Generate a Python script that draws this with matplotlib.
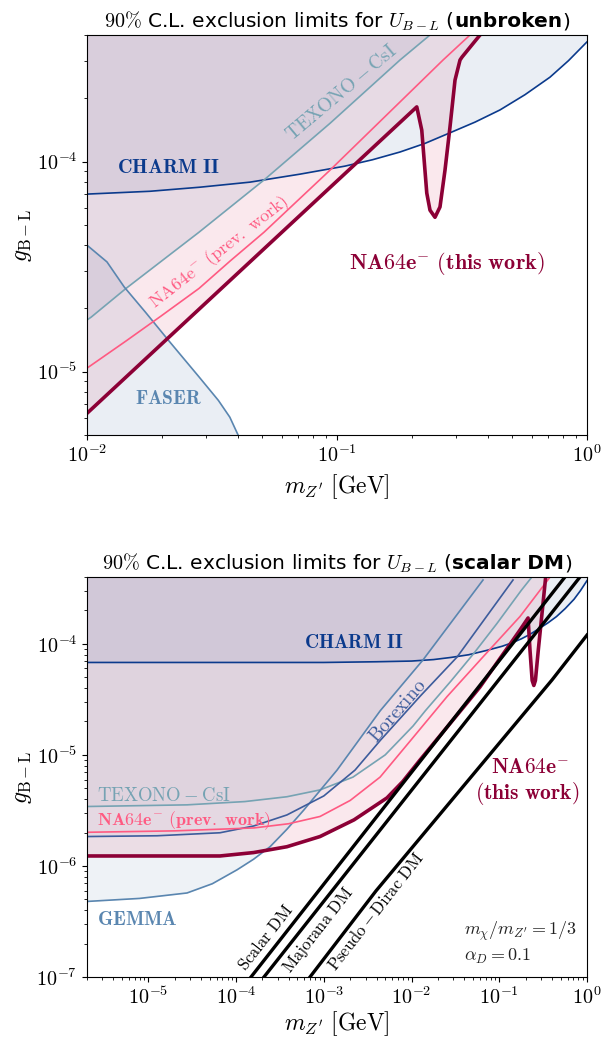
import numpy as np
import matplotlib
matplotlib.use("Agg")
import matplotlib.pyplot as plt
from matplotlib.ticker import FuncFormatter, NullFormatter, LogLocator
from matplotlib.offsetbox import TextArea, HPacker, AnchoredOffsetbox

plt.rcParams['mathtext.fontset'] = 'cm'
plt.rcParams['font.family'] = ['DejaVu Sans']

# ---------------- data ----------------
# shared bounds (both panels)
charm_m = [2e-6, 1e-3, 4e-3, 0.01, 0.01786, 0.02831, 0.04487, 0.07112, 0.1076, 0.1387, 0.1786, 0.2249,
           0.2831, 0.3565, 0.4487, 0.5649, 0.7112, 0.8433, 1.0]
charm_g = [6.8e-5, 6.8e-5, 6.9e-5, 7.0e-5, 7.22e-5, 7.55e-5, 7.98e-5, 8.71e-5, 9.51e-5, 1.02e-4, 1.11e-4, 1.22e-4,
           1.37e-4, 1.54e-4, 1.76e-4, 2.08e-4, 2.52e-4, 3.02e-4, 3.71e-4]

texono_m = [2e-6, 2.76e-5, 1.26e-4, 3.8e-4, 9.06e-4, 2.15e-3, 5.01e-3, 0.0104, 0.01432, 0.02805, 0.05105,
            0.09376, 0.1786, 0.2355]
texono_g = [3.43e-6, 3.55e-6, 3.8e-6, 4.2e-6, 4.84e-6, 6.31e-6, 1.0e-5, 1.82e-5, 2.49e-5, 4.61e-5, 8.17e-5,
            1.52e-4, 3.04e-4, 4.0e-4]

# top panel (unbroken)
faser_m = [0.01, 0.01202, 0.01409, 0.01713, 0.02118, 0.02808, 0.03352, 0.03726, 0.04027]
faser_g = [4.0e-5, 3.33e-5, 2.53e-5, 1.92e-5, 1.41e-5, 9.44e-6, 7.31e-6, 6.08e-6, 4.98e-6]

prev_u_m = [0.01, 0.01432, 0.01977, 0.02805, 0.03733, 0.05105, 0.09376, 0.1786, 0.2655, 0.3404]
prev_u_g = [1.04e-5, 1.40e-5, 1.84e-5, 2.49e-5, 3.36e-5, 4.61e-5, 9.10e-5, 1.92e-4, 3.04e-4, 4.0e-4]

na64_u_m = [0.01, 0.2085, 0.2183, 0.2286, 0.2355, 0.2466, 0.2582, 0.2704, 0.2831, 0.2965, 0.3105, 0.3162, 0.3733]
na64_u_g = [6.34e-6, 1.82e-4, 1.41e-4, 7.08e-5, 5.87e-5, 5.43e-5, 6.08e-5, 9.10e-5, 1.46e-4, 2.44e-4, 3.04e-4,
            3.14e-4, 4.0e-4]

# bottom panel (scalar DM)
gemma_m = [2e-6, 7.94e-6, 2.76e-5, 5.37e-5, 1.026e-4, 1.585e-4, 2.44e-4, 3.8e-4, 5.94e-4, 1.416e-3, 4.4e-3,
           0.0135, 0.0653]
gemma_g = [4.79e-7, 5.1e-7, 5.71e-7, 6.92e-7, 9.23e-7, 1.15e-6, 1.49e-6, 2.14e-6, 3.2e-6, 7.3e-6, 2.5e-5,
           7.16e-5, 3.76e-4]

borex_m = [2e-6, 1.26e-5, 6.56e-5, 1.585e-4, 3.8e-4, 1e-3, 2.27e-3, 4.4e-3, 0.01259, 0.033, 0.1435]
borex_g = [1.84e-6, 1.87e-6, 1.99e-6, 2.29e-6, 2.88e-6, 4.27e-6, 7.3e-6, 1.35e-5, 3.39e-5, 7.6e-5, 3.76e-4]

prev_s_m = [2e-6, 2e-5, 1.6e-4, 3.98e-4, 9.06e-4, 2e-3, 4.38e-3, 0.01, 0.0254, 0.0631, 0.172, 0.38]
prev_s_g = [2.01e-6, 2.07e-6, 2.2e-6, 2.4e-6, 2.79e-6, 3.89e-6, 6.31e-6, 1.38e-5, 3.35e-5, 7.41e-5, 1.76e-4, 4.0e-4]

na64_s_m = [2e-6, 6.56e-5, 1.585e-4, 3.8e-4, 9.06e-4, 2.21e-3, 5.25e-3, 7.94e-3, 0.0125, 0.0429, 0.0603,
            0.172, 0.213, 0.2239, 0.2371, 0.2477, 0.2582, 0.2786, 0.3126, 0.338]
na64_s_g = [1.23e-6, 1.23e-6, 1.32e-6, 1.49e-6, 1.84e-6, 2.6e-6, 4.1e-6, 5.75e-6, 9.0e-6, 2.94e-5, 4.09e-5,
            1.33e-4, 1.71e-4, 8.81e-5, 4.68e-5, 4.22e-5, 4.68e-5, 8.81e-5, 2.16e-4, 4.0e-4]

scalar_m = [1.48e-4, 7.4e-3, 0.561]
scalar_g = [1e-7, 5.15e-6, 4.0e-4]
major_m = [2.08e-4, 0.832]
major_g = [1e-7, 4.0e-4]
pdirac_m = [6.96e-4, 3.94e-3, 0.399, 1.0]
pdirac_g = [1e-7, 5.97e-7, 4.73e-5, 1.2e-4]

# ---------------- style ----------------
C_CHARM = '#0b3a8c'
C_TEXONO = '#76a3b3'
C_FASER = '#5a86b0'
C_BOREX = '#3d5c9c'
C_PREV = '#ff5a82'
C_NA64 = '#8c0036'
FILL_B = '#8fa6c6'
FILL_P = '#d9547a'
AB = 0.18
AP = 0.13

fig = plt.figure(figsize=(6.03, 10.38), dpi=100)
ax1 = fig.add_axes([87/603, 1-435/1038, 500/603, 400/1038])
ax2 = fig.add_axes([87/603, 1-977/1038, 500/603, 400/1038])

TOP = 1.0
BOT = 1e-12


def fmt(v, p):
    e = int(round(np.log10(v)))
    return r'$10^{%d}$' % e


def style_axes(ax, xpad):
    ax.set_xscale('log')
    ax.set_yscale('log')
    ax.xaxis.set_major_formatter(FuncFormatter(fmt))
    ax.yaxis.set_major_formatter(FuncFormatter(fmt))
    ax.xaxis.set_minor_formatter(NullFormatter())
    ax.yaxis.set_minor_formatter(NullFormatter())
    ax.xaxis.set_minor_locator(LogLocator(base=10, subs=np.arange(2, 10), numticks=30))
    ax.yaxis.set_minor_locator(LogLocator(base=10, subs=np.arange(2, 10), numticks=30))
    ax.tick_params(labelsize=14.5)
    ax.set_xlabel(r"$m_{Z^{\prime}}\ [\mathrm{GeV}]$", fontsize=17, labelpad=xpad)
    ax.set_ylabel(r"$g_{\mathrm{B-L}}$", fontsize=17, labelpad=2)


def title(ax, bold):
    fs = 14.5
    parts = [TextArea(r"$90\%$ C.L. exclusion limits for $U_{B-L}$ (", textprops=dict(fontsize=fs)),
             TextArea(bold, textprops=dict(fontsize=fs, fontweight='bold')),
             TextArea(")", textprops=dict(fontsize=fs))]
    box = HPacker(children=parts, align='baseline', pad=0, sep=0)
    ab = AnchoredOffsetbox(loc='lower center', child=box, pad=0, borderpad=0,
                           bbox_to_anchor=(0.5, 1.006), bbox_transform=ax.transAxes,
                           frameon=False)
    ax.add_artist(ab)


# ---------------- top panel ----------------
ax = ax1
ax.fill_between(charm_m, charm_g, TOP, color=FILL_B, alpha=AB, lw=0)
ax.fill_between(texono_m, texono_g, TOP, color=FILL_B, alpha=AB, lw=0)
ax.fill_between(faser_m, BOT, faser_g, color=FILL_B, alpha=AB, lw=0)
ax.fill_between(na64_u_m, na64_u_g, TOP, color=FILL_P, alpha=AP, lw=0)
ax.plot(charm_m, charm_g, color=C_CHARM, lw=1.2)
ax.plot(texono_m, texono_g, color=C_TEXONO, lw=1.2)
ax.plot(faser_m, faser_g, color=C_FASER, lw=1.2)
ax.plot(prev_u_m, prev_u_g, color=C_PREV, lw=1.2)
ax.plot(na64_u_m, na64_u_g, color=C_NA64, lw=2.6, solid_joinstyle='round')
ax.set_xlim(1e-2, 1)
ax.set_ylim(5e-6, 4e-4)
style_axes(ax, 4)
title(ax, 'unbroken')

ax.text(0.0213, 9.4e-5, r'$\mathbf{CHARM\ II}$', color=C_CHARM, fontsize=14.5, ha='center', va='center')
ax.text(0.104, 2.12e-4, r'$\mathrm{TEXONO-CsI}$', color=C_TEXONO, fontsize=14, ha='center', va='center', rotation=40)
ax.text(0.034, 3.7e-5, r'$\mathrm{NA64e^{-}\ (prev.\ work)}$', color=C_PREV, fontsize=13, ha='center', va='center', rotation=38)
ax.text(0.275, 3.28e-5, r'$\mathbf{NA64e^{-}\ (this\ work)}$', color=C_NA64, fontsize=16, ha='center', va='center')
ax.text(0.0211, 7.46e-6, r'$\mathbf{FASER}$', color=C_FASER, fontsize=14, ha='center', va='center')

# ---------------- bottom panel ----------------
ax = ax2
ax.fill_between(charm_m, charm_g, TOP, color=FILL_B, alpha=AB, lw=0)
ax.fill_between(texono_m, texono_g, TOP, color=FILL_B, alpha=AB * 0.4, lw=0)
ax.fill_between(gemma_m, gemma_g, TOP, color=FILL_B, alpha=AB * 0.8, lw=0)
ax.fill_between(borex_m, borex_g, TOP, color=FILL_B, alpha=AB * 0.4, lw=0)
ax.fill_between(na64_s_m, na64_s_g, TOP, color=FILL_P, alpha=AP, lw=0)
ax.plot(charm_m, charm_g, color=C_CHARM, lw=1.2)
ax.plot(texono_m, texono_g, color=C_TEXONO, lw=1.2)
ax.plot(gemma_m, gemma_g, color=C_FASER, lw=1.2)
ax.plot(borex_m, borex_g, color=C_BOREX, lw=1.2)
ax.plot(prev_s_m, prev_s_g, color=C_PREV, lw=1.2)
ax.plot(na64_s_m, na64_s_g, color=C_NA64, lw=2.6, solid_joinstyle='round')
ax.plot(scalar_m, scalar_g, color='black', lw=2.4)
ax.plot(major_m, major_g, color='black', lw=2.4)
ax.plot(pdirac_m, pdirac_g, color='black', lw=2.4)
ax.set_xlim(2e-6, 1)
ax.set_ylim(1e-7, 4e-4)
style_axes(ax, 1)
title(ax, 'scalar DM')

ax.text(2.2e-3, 1.02e-4, r'$\mathbf{CHARM\ II}$', color=C_CHARM, fontsize=14, ha='center', va='center')
ax.text(7.0e-3, 2.5e-5, r'$\mathrm{Borexino}$', color=C_BOREX, fontsize=14, ha='center', va='center', rotation=49)
ax.text(2.6e-6, 4.3e-6, r'$\mathrm{TEXONO-CsI}$', color=C_TEXONO, fontsize=13.5, ha='left', va='center')
ax.text(2.6e-6, 2.55e-6, r'$\mathbf{NA64e^{-}\ (prev.\ work)}$', color=C_PREV, fontsize=13, ha='left', va='center')
ax.text(2.6e-6, 3.3e-7, r'$\mathbf{GEMMA}$', color=C_FASER, fontsize=14, ha='left', va='center')
ax.text(0.224, 7.8e-6, r'$\mathbf{NA64e^{-}}$', color=C_NA64, fontsize=15.5, ha='center', va='center')
ax.text(0.207, 4.45e-6, r'$\mathbf{(this\ work)}$', color=C_NA64, fontsize=15.5, ha='center', va='center')
ax.text(2.19e-4, 2.25e-7, r'$\mathrm{Scalar\ DM}$', color='black', fontsize=12, ha='center', va='center', rotation=52)
ax.text(8.6e-4, 2.66e-7, r'$\mathrm{Majorana\ DM}$', color='black', fontsize=12, ha='center', va='center', rotation=52)
ax.text(3.94e-3, 3.86e-7, r'$\mathrm{Pseudo-Dirac\ DM}$', color='black', fontsize=12, ha='center', va='center', rotation=52)
ax.text(0.0396, 2.55e-7, r'$m_{\chi}/m_{Z^{\prime}} = 1/3$', color='#222222', fontsize=13, ha='left', va='center')
ax.text(0.0396, 1.52e-7, r'$\alpha_D = 0.1$', color='#222222', fontsize=13, ha='left', va='center')

fig.savefig('out.png', dpi=100)
